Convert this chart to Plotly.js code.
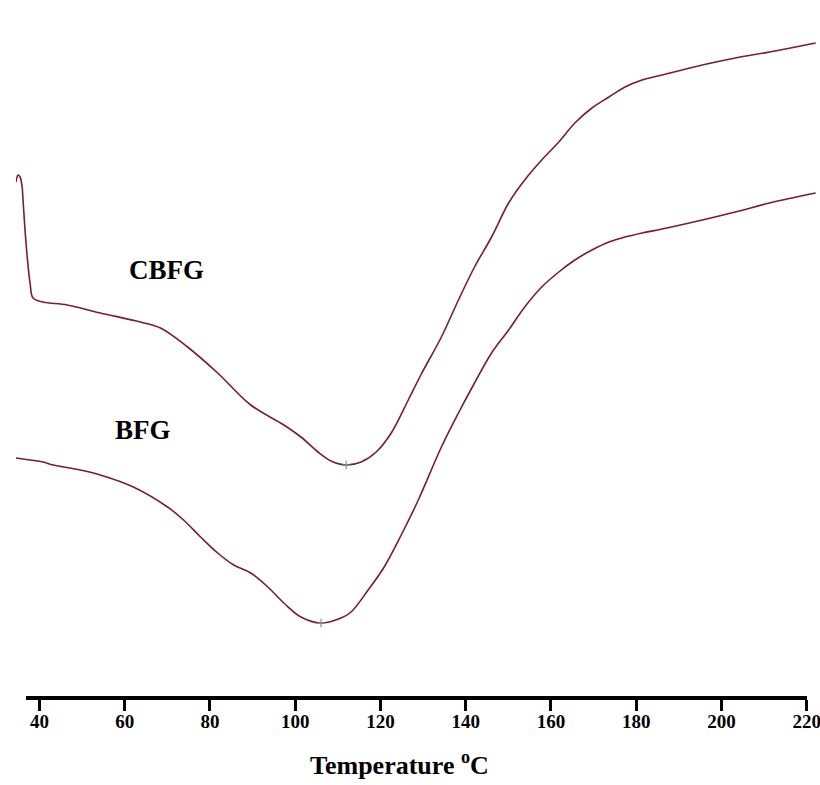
<!DOCTYPE html>
<html>
<head>
<meta charset="utf-8">
<script src="https://cdn.plot.ly/plotly-3.0.1.min.js"></script>
<style>html,body{margin:0;padding:0;background:#fff;}#chart{width:820px;height:785px;}</style>
</head>
<body>
<div id="chart"></div>
<script>
// Temperature (°C) and heat flow (arbitrary units)
var cbfgT = [34.50,34.97,35.44,35.91,36.15,36.62,37.09,37.80,38.50,40.86,46.51,54.27,63.69,68.40,74.75,81.82,89.58,97.35,101.35,105.36,108.42,111.95,115.48,119.01,122.54,126.54,129.60,134.31,138.31,142.08,146.08,150.08,153.85,157.85,161.85,165.62,169.62,173.62,177.39,181.39,186.10,195.52,203.29,211.29,222.12];
var cbfgH = [51.4,52.1,51.9,51.0,49.6,46.6,44.1,41.3,39.8,39.4,39.1,38.3,37.4,36.8,34.9,32.3,29.1,27.1,25.9,24.4,23.5,23.1,23.4,24.4,26.3,29.6,32.2,35.9,39.6,42.9,45.9,49.3,51.6,53.6,55.4,57.3,58.8,59.9,60.9,61.6,62.1,63.1,63.8,64.4,65.3];
var bfgT = [34.50,37.80,40.86,43.21,49.57,54.27,62.04,70.05,73.81,77.81,81.82,85.58,89.58,93.59,97.35,101.35,106.06,110.77,113.12,117.12,120.89,124.89,128.89,134.31,138.31,142.08,146.08,150.08,153.85,157.85,161.85,165.62,169.62,173.62,177.39,181.39,186.10,195.52,203.29,211.29,222.12];
var bfgH = [23.8,23.6,23.4,23.1,22.6,22.1,20.9,18.9,17.6,15.9,14.3,13.1,12.3,10.9,9.3,7.9,7.3,7.8,8.4,10.6,12.9,16.1,19.6,24.9,28.3,31.3,34.3,36.6,38.9,40.9,42.4,43.6,44.6,45.4,45.9,46.3,46.7,47.6,48.4,49.3,50.3];
var peakT = [111.95,106.06];
var peakH = [23.1,7.3];
var seriesNames = ["CBFG","BFG"];
var labelT = [69.8,64.4];
var labelH = [42.6,26.6];
var tickValues = [40,60,80,100,120,140,160,180,200,220];

var lineColor = "#7a1e2b";
var serif = "Liberation Serif, Times New Roman, serif";

// data axis range and the visible temperature scale (same px per °C, shorter span)
var dataRange = [34.5, 222.2];
var scaleRange = [36.85, 220];
var span = dataRange[1] - dataRange[0];
var scaleDomain = [(scaleRange[0] - dataRange[0]) / span, (scaleRange[1] - dataRange[0]) / span];

var traces = [
  {x: cbfgT, y: cbfgH, name: seriesNames[0], mode: "lines", line: {color: lineColor, width: 1.6, shape: "spline", smoothing: 1}},
  {x: bfgT, y: bfgH, name: seriesNames[1], mode: "lines", line: {color: lineColor, width: 1.6, shape: "spline", smoothing: 1}},
  {x: peakT, y: peakH, xaxis: "x2", yaxis: "y", mode: "markers", marker: {symbol: "cross-thin", size: 6, line: {color: "#6f9aa3", width: 1.2}}, hoverinfo: "skip"}
];

var annotations = seriesNames.map(function(n, i){
  return {x: labelT[i], y: labelH[i], xref: "x", yref: "y", text: n, showarrow: false,
          font: {family: serif, size: 27, color: "#000", weight: 700}};
});
annotations.push({x: 0.479, y: -0.097, xref: "paper", yref: "paper", text: "Temperature <sup>o</sup>C",
  showarrow: false, xanchor: "center", yanchor: "middle",
  font: {family: serif, size: 26, color: "#000", weight: 700}});

var layout = {
  width: 820, height: 785,
  margin: {l: 16, r: 4, t: 0, b: 89},
  paper_bgcolor: "#ffffff", plot_bgcolor: "rgba(0,0,0,0)",
  showlegend: false,
  xaxis: {range: dataRange, visible: false, showgrid: false, zeroline: false},
  xaxis2: {range: scaleRange, domain: scaleDomain, anchor: "y", side: "bottom",
           showgrid: false, zeroline: false, showline: true, linecolor: "#000", linewidth: 4,
           tickmode: "array", tickvals: tickValues, ticktext: tickValues.map(String),
           ticks: "outside", ticklen: 11, tickwidth: 3, tickcolor: "#000000",
           ticklabeloverflow: "allow", ticklabelstandoff: -6,
           tickfont: {family: serif, size: 19, color: "#000", weight: 700}},
  yaxis: {range: [0, 69.6], visible: false, showgrid: false, zeroline: false},
  annotations: annotations
};

Plotly.newPlot("chart", traces, layout, {displayModeBar: false, staticPlot: true});
</script>
</body>
</html>
